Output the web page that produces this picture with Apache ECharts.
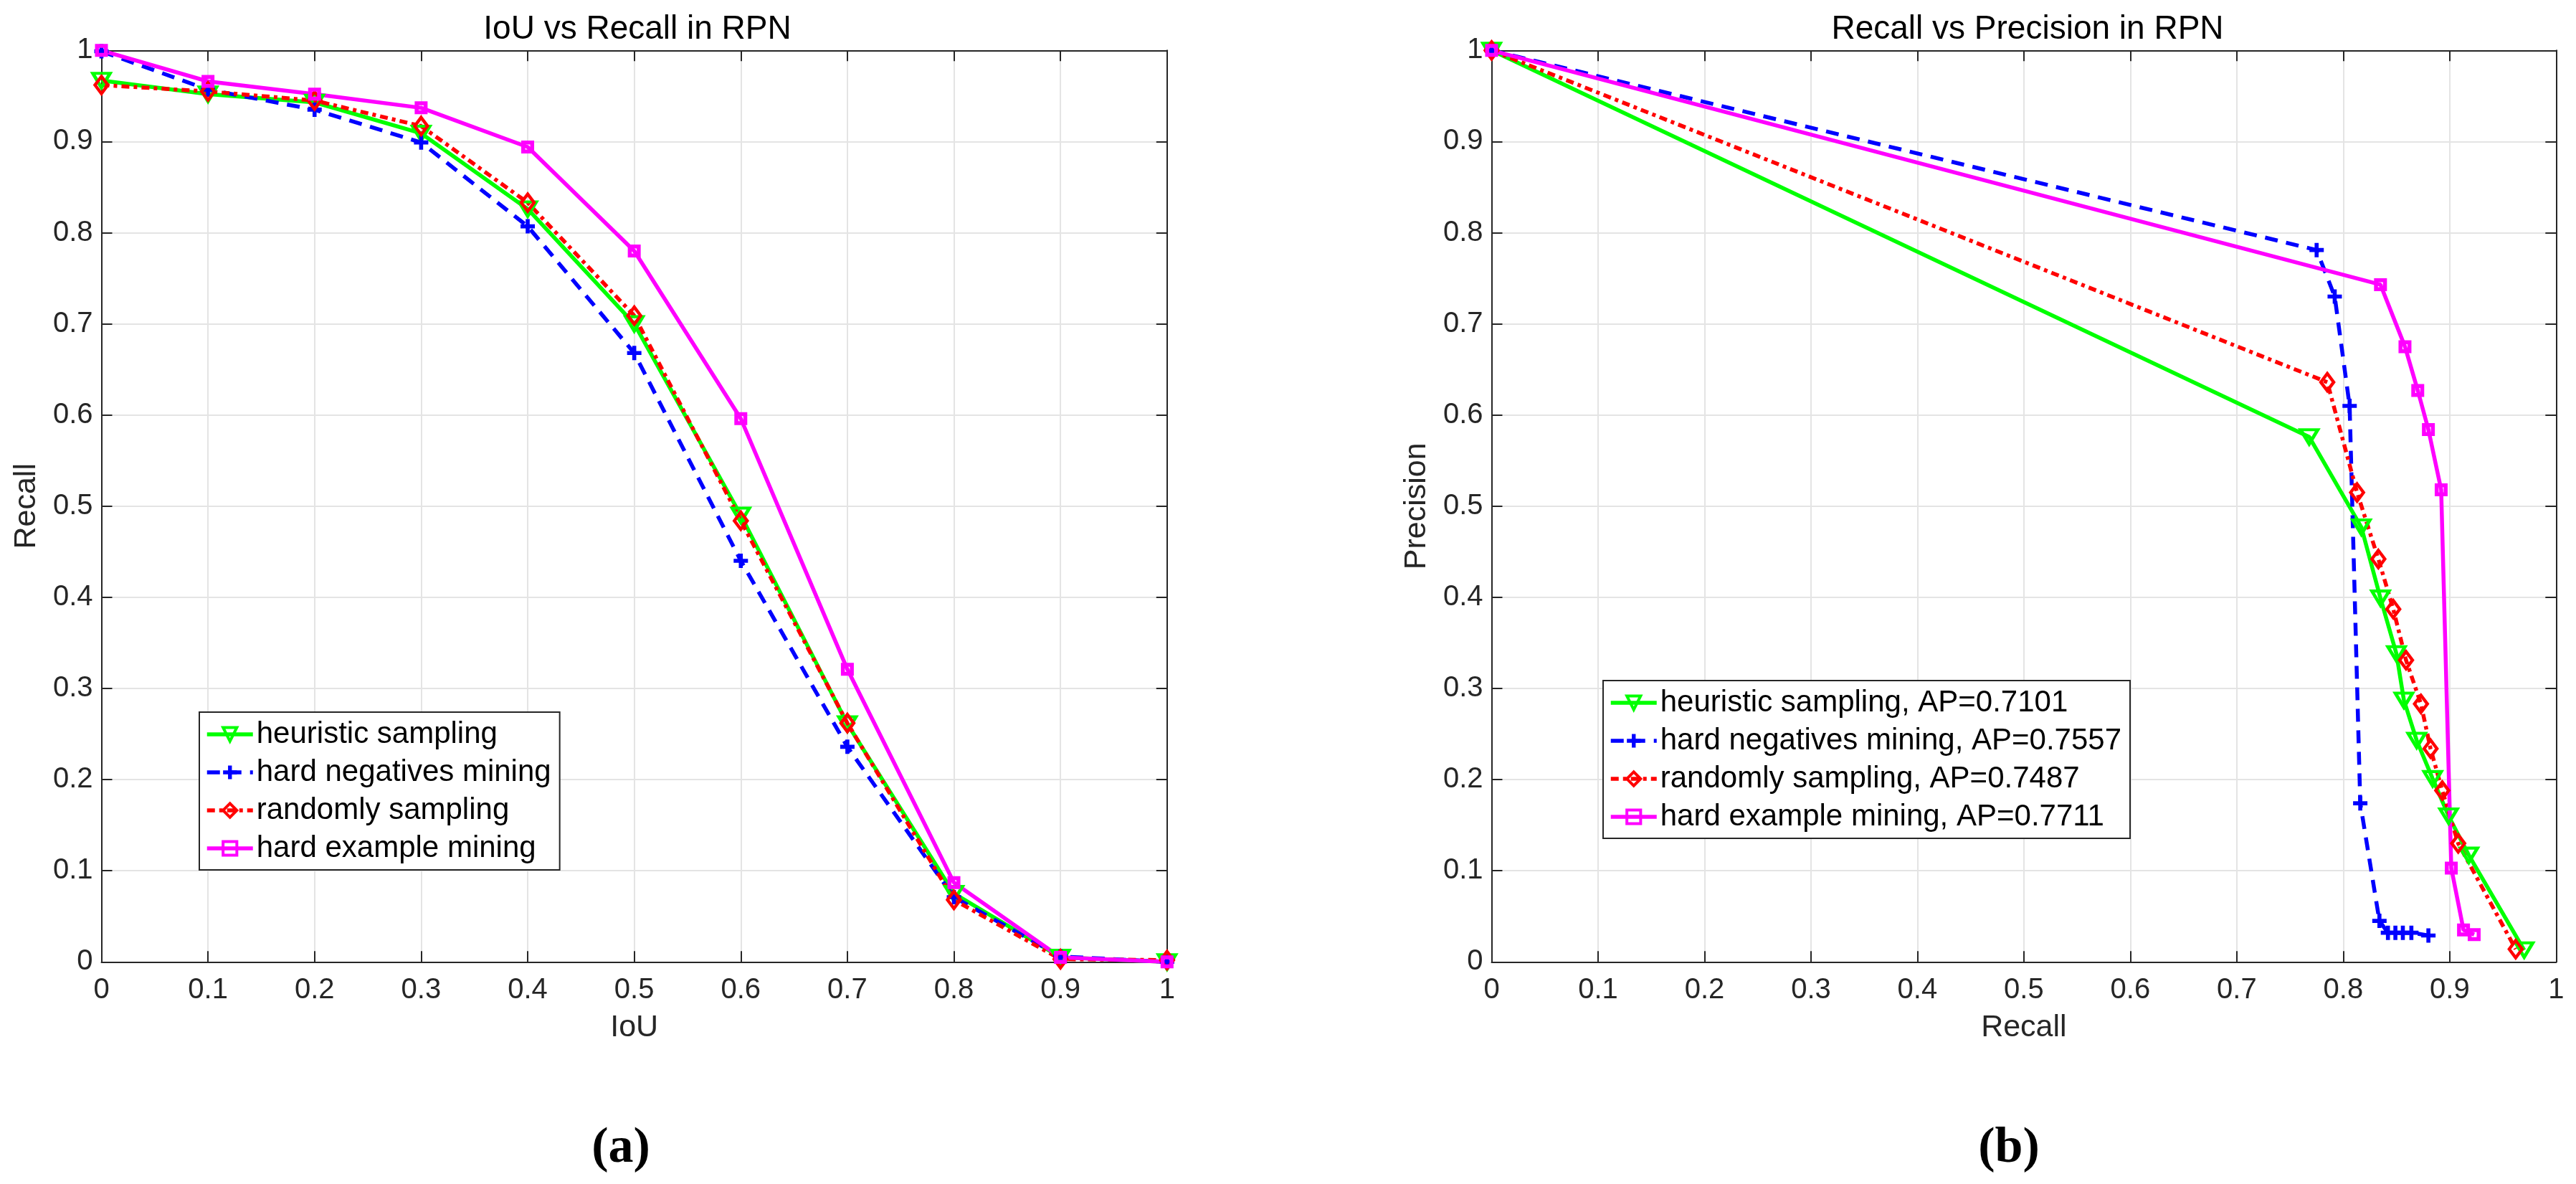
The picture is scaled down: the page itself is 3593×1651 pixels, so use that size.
<!DOCTYPE html>
<html>
<head>
<meta charset="UTF-8">
<title>RPN sampling curves</title>
<script src="https://cdn.jsdelivr.net/npm/echarts@6/dist/echarts.min.js"></script>
<style>
  html, body { margin: 0; padding: 0; background: #fff; }
  #chart { width: 3593px; height: 1651px; }
</style>
</head>
<body>
<div id="chart"></div>
<script>
// ---- data ----
// (a) IoU vs Recall, sampled at each IoU tick
var iouValues = [0, 0.1, 0.2, 0.3, 0.4, 0.5, 0.6, 0.7, 0.8, 0.9, 1];
var recallHeuristic = [0.967, 0.952, 0.943, 0.909, 0.826, 0.700, 0.490, 0.261, 0.075, 0.005, 0.000];
var recallHardNeg   = [0.999, 0.957, 0.935, 0.899, 0.807, 0.668, 0.440, 0.236, 0.071, 0.006, 0.000];
var recallRandom    = [0.962, 0.955, 0.945, 0.917, 0.833, 0.709, 0.484, 0.262, 0.068, 0.003, 0.002];
var recallHardEx    = [1.000, 0.966, 0.952, 0.937, 0.894, 0.780, 0.596, 0.321, 0.087, 0.005, 0.000];

// (b) Recall vs Precision
var prHeuristicX = [0, 0.768, 0.817, 0.835, 0.850, 0.857, 0.869, 0.884, 0.899, 0.918, 0.970];
var prHeuristicY = [1, 0.576, 0.477, 0.399, 0.338, 0.287, 0.243, 0.201, 0.160, 0.117, 0.013];
var prHardNegX   = [0, 0.775, 0.792, 0.806, 0.816, 0.834, 0.842, 0.849, 0.856, 0.864, 0.880];
var prHardNegY   = [1, 0.781, 0.730, 0.610, 0.174, 0.045, 0.032, 0.032, 0.032, 0.032, 0.029];
var prRandomX    = [0, 0.785, 0.813, 0.833, 0.847, 0.859, 0.873, 0.882, 0.893, 0.908, 0.962];
var prRandomY    = [1, 0.636, 0.515, 0.442, 0.387, 0.331, 0.283, 0.234, 0.188, 0.130, 0.014];
var prHardExX    = [0, 0.835, 0.858, 0.870, 0.880, 0.892, 0.9015, 0.913, 0.923];
var prHardExY    = [1, 0.743, 0.675, 0.627, 0.584, 0.518, 0.103, 0.035, 0.030];

var namesA = ['heuristic sampling', 'hard negatives mining', 'randomly sampling', 'hard example mining'];
var namesB = ['heuristic sampling, AP=0.7101', 'hard negatives mining, AP=0.7557',
              'randomly sampling, AP=0.7487', 'hard example mining, AP=0.7711'];

function zip(xs, ys) {
  return xs.map(function (x, i) { return [x, ys[i]]; });
}

var FONT = "'Liberation Sans', Arial, Helvetica, sans-serif";
var SERIF = "'Liberation Serif', 'Times New Roman', serif";
var INK = '#262626';
var PLUS = 'path://M3.6,0H6.4V3.6H10V6.4H6.4V10H3.6V6.4H0V3.6H3.6Z';
var LINE_W = 5.5;

// marker/line look per method (matlab-like)
var looks = [
  { color: '#00ff00', type: 'solid',       symbol: 'triangle', size: [24, 20], rotate: 180, hollow: true, bw: 4.5 },
  { color: '#0000ff', type: [18, 12],      symbol: PLUS,       size: 20,       rotate: 0,   hollow: false, bw: 0 },
  { color: '#ff0000', type: [11, 6, 5, 6], symbol: 'diamond',  size: [18, 24], rotate: 0,   hollow: true, bw: 4.5 },
  { color: '#ff00ff', type: 'solid',       symbol: 'rect',     size: 12.5,     rotate: 0,   hollow: true, bw: 5.5 }
];

function makeSeries(name, data, look, axis) {
  return {
    type: 'line',
    name: name,
    data: data,
    xAxisIndex: axis,
    yAxisIndex: axis,
    symbol: look.symbol,
    symbolSize: look.size,
    symbolRotate: look.rotate,
    showAllSymbol: true,
    clip: false,
    lineStyle: { color: look.color, width: LINE_W, type: look.type },
    itemStyle: look.hollow
      ? { color: 'rgba(255,255,255,0)', borderColor: look.color, borderWidth: look.bw }
      : { color: look.color, borderWidth: 0 },
    emphasis: { disabled: true }
  };
}

function mainX(grid, name) {
  return {
    type: 'value', gridIndex: grid, position: 'bottom', min: 0, max: 1, interval: 0.1,
    name: name, nameLocation: 'middle', nameGap: 70,
    nameTextStyle: { fontFamily: FONT, fontSize: 43, color: INK },
    axisLine: { show: true, onZero: false, lineStyle: { color: INK, width: 2 } },
    axisTick: { show: true, inside: true, length: 15, lineStyle: { color: INK, width: 2 } },
    axisLabel: { fontFamily: FONT, fontSize: 40, color: INK, margin: 20 },
    splitLine: { show: true, lineStyle: { color: '#e4e4e4', width: 2 } }
  };
}
function mainY(grid, name) {
  return {
    type: 'value', gridIndex: grid, position: 'left', min: 0, max: 1, interval: 0.1,
    name: name, nameLocation: 'middle', nameGap: 83,
    nameTextStyle: { fontFamily: FONT, fontSize: 43, color: INK },
    axisLine: { show: true, onZero: false, lineStyle: { color: INK, width: 2 } },
    axisTick: { show: true, inside: true, length: 15, lineStyle: { color: INK, width: 2 } },
    axisLabel: { fontFamily: FONT, fontSize: 40, color: INK, margin: 12 },
    splitLine: { show: true, lineStyle: { color: '#e4e4e4', width: 2 } }
  };
}
// top / right axes only give the box with inner ticks
function boxAxis(grid, pos) {
  return {
    type: 'value', gridIndex: grid, position: pos, min: 0, max: 1, interval: 0.1,
    axisLine: { show: true, onZero: false, lineStyle: { color: INK, width: 2 } },
    axisTick: { show: true, inside: true, length: 15, lineStyle: { color: INK, width: 2 } },
    axisLabel: { show: false },
    splitLine: { show: false }
  };
}

function legendAt(left, top, names) {
  return {
    orient: 'vertical', left: left, top: top, data: names,
    padding: [10, 12, 9, 8], itemGap: 11, itemWidth: 64, itemHeight: 24,
    backgroundColor: '#fff', borderColor: INK, borderWidth: 2, borderRadius: 0,
    selectedMode: false,
    lineStyle: { width: LINE_W },
    itemStyle: { borderWidth: 4 },
    textStyle: { fontFamily: FONT, fontSize: 42, color: '#000', lineHeight: 41 }
  };
}

function caption(letter, x) {
  return {
    text: '{p|(}{b|' + letter + '}{p|)}', left: x, top: 1562, textAlign: 'center',
    textStyle: { rich: {
      p: { fontFamily: SERIF, fontSize: 70, color: '#000' },
      b: { fontFamily: SERIF, fontSize: 70, fontWeight: 'bold', color: '#000' } } }
  };
}

var chart = echarts.init(document.getElementById('chart'));
var option = {
  backgroundColor: '#fff',
  animation: false,
  title: [
    { text: 'IoU vs Recall in RPN', left: 884, top: 13, textAlign: 'center',
      textStyle: { fontFamily: FONT, fontSize: 46, fontWeight: 'normal', color: '#000' } },
    { text: 'Recall vs Precision in RPN', left: 2823, top: 13, textAlign: 'center',
      textStyle: { fontFamily: FONT, fontSize: 46, fontWeight: 'normal', color: '#000' } },
    caption('a', 861),
    caption('b', 2797)
  ],
  grid: [
    { left: 141.5, top: 70.3, width: 1486.3, height: 1271, containLabel: false },
    { left: 2080.5, top: 70.3, width: 1484.8, height: 1271, containLabel: false }
  ],
  xAxis: [mainX(0, 'IoU'), mainX(1, 'Recall'), boxAxis(0, 'top'), boxAxis(1, 'top')],
  yAxis: [mainY(0, 'Recall'), mainY(1, 'Precision'), boxAxis(0, 'right'), boxAxis(1, 'right')],
  legend: [legendAt(278, 993, namesA), legendAt(2236, 949, namesB)],
  series: [
    makeSeries(namesA[0], zip(iouValues, recallHeuristic), looks[0], 0),
    makeSeries(namesA[1], zip(iouValues, recallHardNeg), looks[1], 0),
    makeSeries(namesA[2], zip(iouValues, recallRandom), looks[2], 0),
    makeSeries(namesA[3], zip(iouValues, recallHardEx), looks[3], 0),
    makeSeries(namesB[0], zip(prHeuristicX, prHeuristicY), looks[0], 1),
    makeSeries(namesB[1], zip(prHardNegX, prHardNegY), looks[1], 1),
    makeSeries(namesB[2], zip(prRandomX, prRandomY), looks[2], 1),
    makeSeries(namesB[3], zip(prHardExX, prHardExY), looks[3], 1)
  ]
};
chart.setOption(option);
</script>
</body>
</html>
